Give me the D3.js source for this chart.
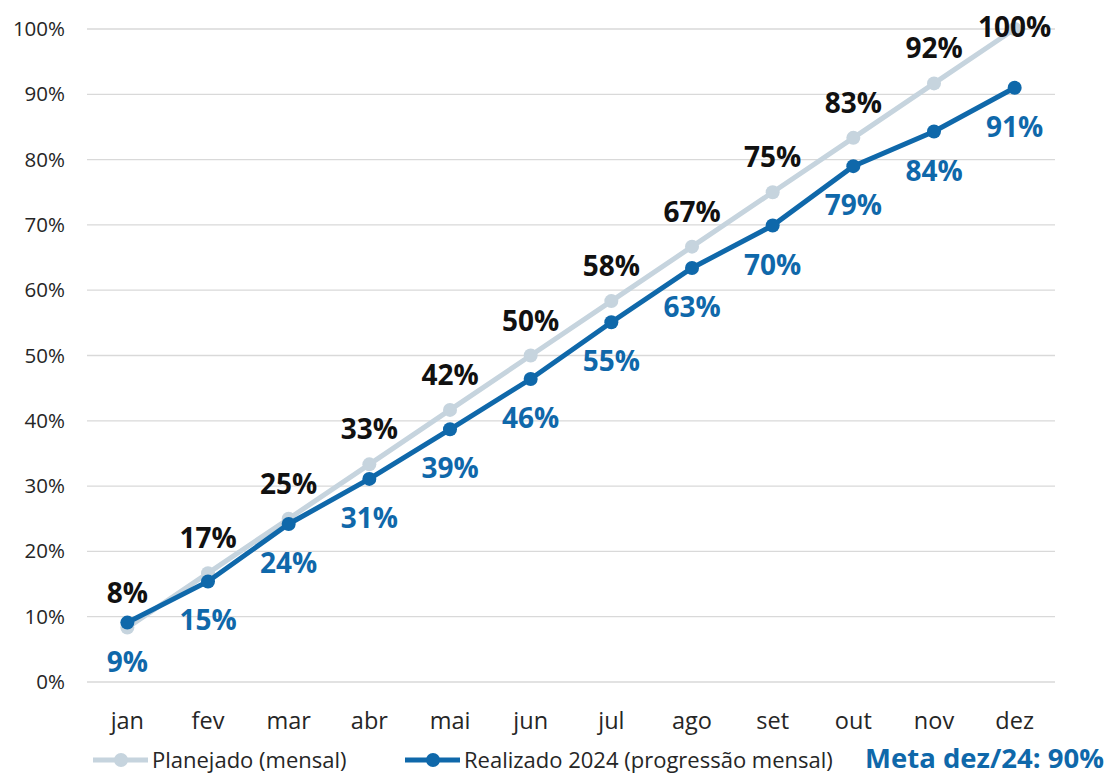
<!DOCTYPE html>
<html>
<head>
<meta charset="utf-8">
<script src="https://cdn.jsdelivr.net/npm/d3@7"></script>
<style>
  body { margin: 0; background: #fff; }
  text { font-family: "Open Sans", "Noto Sans", sans-serif; }
</style>
</head>
<body>
<div id="graph"></div>
<script>
// dados do gráfico
const meses = ["jan", "fev", "mar", "abr", "mai", "jun", "jul", "ago", "set", "out", "nov", "dez"];
const planejado = [8.33, 16.67, 25, 33.33, 41.67, 50, 58.33, 66.67, 75, 83.33, 91.67, 100];
const realizado = [9.1, 15.4, 24.2, 31.1, 38.7, 46.4, 55.1, 63.4, 69.9, 79.0, 84.3, 91.0];
const yTicks = [0, 10, 20, 30, 40, 50, 60, 70, 80, 90, 100];
const meta = "Meta dez/24: 90%";

const width = 1109;
const height = 775;
const margin = { top: 29, left: 87, right: 54, bottom: 92 };

const corPlan = "#c6d4de";
const corReal = "#0f68aa";

const svg = d3.select("#graph")
  .append("svg")
  .attr("width", width)
  .attr("height", height);

const xScale = d3.scaleBand()
  .domain(meses)
  .range([margin.left, width - margin.right]);

const yScale = d3.scaleLinear()
  .domain([0, 100])
  .range([height - margin.bottom - 1, margin.top]);

const cx = d => xScale(d) + xScale.bandwidth() / 2;

// linhas de grade
svg.append("g")
  .selectAll("line")
  .data(yTicks)
  .join("line")
  .attr("x1", margin.left)
  .attr("x2", width - margin.right)
  .attr("y1", d => yScale(d))
  .attr("y2", d => yScale(d))
  .attr("stroke", "#d9d9d9")
  .attr("stroke-width", 1.3);

// eixo y
const yAxis = svg.append("g")
  .attr("transform", `translate(${margin.left}, 0)`)
  .call(d3.axisLeft(yScale).tickValues(yTicks).tickFormat(d => d + "%").tickSize(0).tickPadding(22));
yAxis.select(".domain").remove();
yAxis.selectAll("text")
  .attr("font-size", "20.5px")
  .attr("fill", "#262626")
  .style("font-family", "'Open Sans', sans-serif");

// eixo x
const xAxis = svg.append("g")
  .attr("transform", `translate(0, ${height - margin.bottom})`)
  .call(d3.axisBottom(xScale).tickSize(0).tickPadding(29));
xAxis.select(".domain").remove();
xAxis.selectAll("text")
  .attr("font-size", "23.5px")
  .attr("fill", "#262626")
  .style("font-family", "'Open Sans', sans-serif");

const linha = d3.line()
  .x((d, i) => cx(meses[i]))
  .y(d => yScale(d));

// série planejado
svg.append("path")
  .datum(planejado)
  .attr("d", linha)
  .attr("fill", "none")
  .attr("stroke", corPlan)
  .attr("stroke-width", 5);

svg.append("g")
  .selectAll("circle")
  .data(planejado)
  .join("circle")
  .attr("cx", (d, i) => cx(meses[i]))
  .attr("cy", d => yScale(d))
  .attr("r", 7)
  .attr("fill", corPlan);

// série realizado
svg.append("path")
  .datum(realizado)
  .attr("d", linha)
  .attr("fill", "none")
  .attr("stroke", corReal)
  .attr("stroke-width", 5);

svg.append("g")
  .selectAll("circle")
  .data(realizado)
  .join("circle")
  .attr("cx", (d, i) => cx(meses[i]))
  .attr("cy", d => yScale(d))
  .attr("r", 7)
  .attr("fill", corReal);

// rótulos planejado (acima)
svg.append("g")
  .selectAll("text")
  .data(planejado)
  .join("text")
  .attr("x", (d, i) => cx(meses[i]))
  .attr("y", d => Math.max(yScale(d) - 25, 37))
  .attr("text-anchor", "middle")
  .attr("font-size", "28px")
  .attr("font-weight", "bold")
  .attr("fill", "#111")
  .text(d => Math.round(d) + "%");

// rótulos realizado (abaixo)
svg.append("g")
  .selectAll("text")
  .data(realizado)
  .join("text")
  .attr("x", (d, i) => cx(meses[i]))
  .attr("y", d => yScale(d) + 49)
  .attr("text-anchor", "middle")
  .attr("font-size", "28px")
  .attr("font-weight", "bold")
  .attr("fill", corReal)
  .text(d => Math.round(d) + "%");

// legenda
const legenda = [
  { nome: "Planejado (mensal)", cor: corPlan, x: 93 },
  { nome: "Realizado 2024 (progressão mensal)", cor: corReal, x: 405 }
];
const ly = 760;
const leg = svg.append("g")
  .selectAll("g")
  .data(legenda)
  .join("g")
  .attr("transform", d => `translate(${d.x}, ${ly})`);
leg.append("line")
  .attr("x1", 0).attr("x2", 55)
  .attr("stroke", d => d.cor)
  .attr("stroke-width", 5);
leg.append("circle")
  .attr("cx", 28).attr("r", 7)
  .attr("fill", d => d.cor);
leg.append("text")
  .attr("x", 59)
  .attr("y", 8)
  .attr("font-size", "22px")
  .attr("fill", "#262626")
  .text(d => d.nome);

svg.append("text")
  .attr("x", 1104)
  .attr("y", 768)
  .attr("text-anchor", "end")
  .attr("font-size", "27.5px")
  .attr("font-weight", "bold")
  .attr("fill", corReal)
  .text(meta);
</script>
</body>
</html>
